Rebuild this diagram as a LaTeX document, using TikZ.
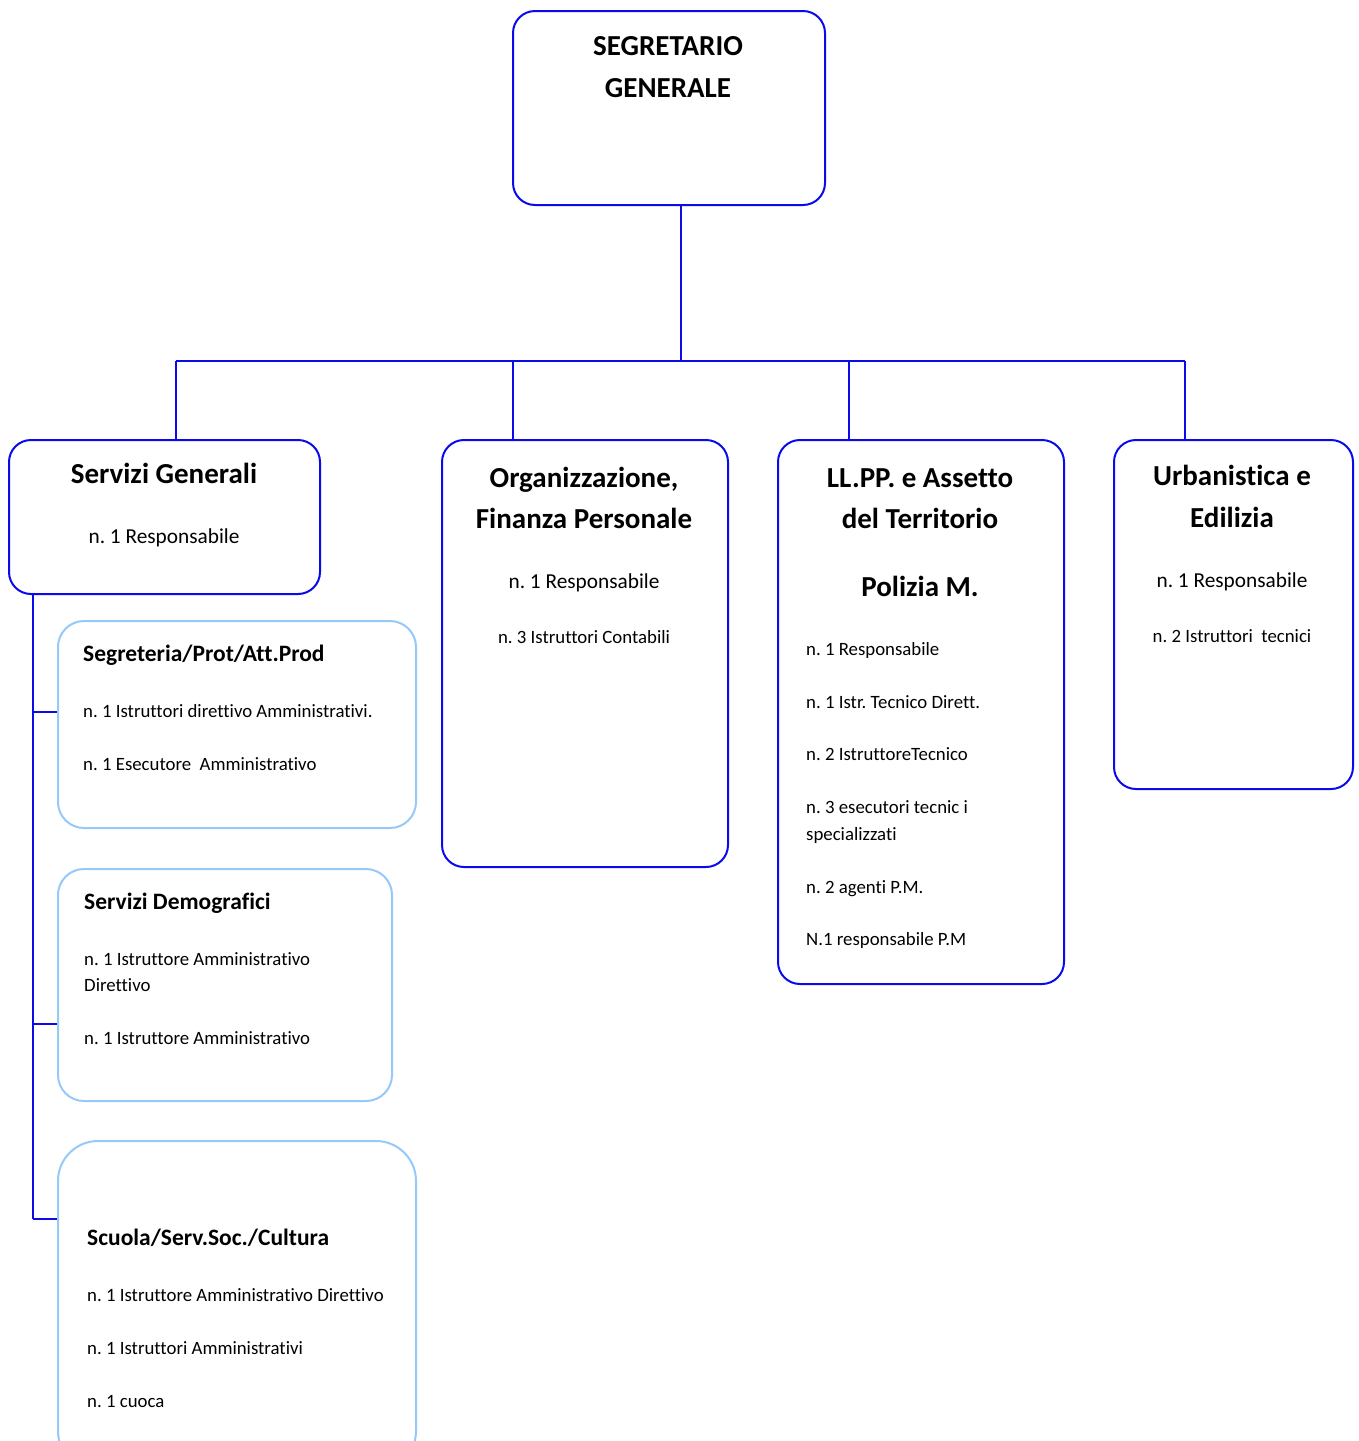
\documentclass[tikz,border=0pt]{standalone}
\usepackage{fontspec}
\setmainfont[Ligatures=NoCommon]{Carlito}
\frenchspacing
\definecolor{orgblue}{RGB}{10,10,235}
\definecolor{subblue}{RGB}{150,200,250}

\begin{document}
\begin{tikzpicture}[x=1pt, y=-1pt,
  unit/.style={draw=orgblue, line width=2pt, rounded corners=22pt, anchor=north west, inner sep=0pt},
  subunit/.style={draw=subblue, line width=2pt, rounded corners=26pt, anchor=north west, inner sep=0pt},
  title/.style={font=\bfseries\fontsize{29}{35}\selectfont, anchor=mid, yshift=-7pt},
  subtitle/.style={font=\bfseries\fontsize{23.5}{28}\selectfont, anchor=mid west, inner sep=0pt, yshift=-6pt},
  staff/.style={font=\fontsize{21.3}{26}\selectfont, anchor=mid, yshift=-5.5pt},
  item/.style={font=\fontsize{18.8}{23}\selectfont, anchor=mid west, inner sep=0pt, yshift=-5pt},
  link/.style={draw=orgblue, line width=2pt}]
  \useasboundingbox (0,0) rectangle (1358,1441);

  % Top box
  \node (sg) at (512,10) [unit, minimum width=312, minimum height=194] {};
  \node (sgt1) at (668,46) [title] {SEGRETARIO};
  \node (sgt2) at (668,88) [title] {GENERALE};

  % Areas
  \node (sgen) at (8,439) [unit, minimum width=311, minimum height=154] {};
  \node (sgent) at (164,474) [title] {Servizi Generali};
  \node (sgenr) at (164,536) [staff] {n. 1 Responsabile};

  \node (org) at (441,439) [unit, minimum width=286, minimum height=427] {};
  \node (orgt1) at (584,478) [title] {Organizzazione,};
  \node (orgt2) at (584,519) [title] {Finanza Personale};
  \node (orgr) at (584,581) [staff] {n. 1 Responsabile};
  \node (orgi) at (584,636) [staff, font=\fontsize{18.8}{23}\selectfont, yshift=0.5pt] {n. 3 Istruttori Contabili};

  \node (llpp) at (777,439) [unit, minimum width=286, minimum height=544] {};
  \node (llppt1) at (920,478) [title] {LL.PP. e Assetto};
  \node (llppt2) at (920,519) [title] {del Territorio};
  \node (llppt3) at (920,587) [title] {Polizia M.};
  \foreach \y/\t [count=\i] in {648/n. 1 Responsabile, 701/n. 1 Istr. Tecnico Dirett.,
      753/n. 2 IstruttoreTecnico, 806/n. 3 esecutori tecnic i, 833/specializzati,
      886/n. 2 agenti P.M., 938/N.1 responsabile P.M}
    \node (llppi\i) at (806,\y) [item] {\t};

  \node (urb) at (1113,439) [unit, minimum width=239, minimum height=349] {};
  \node (urbt1) at (1232,476) [title] {Urbanistica e};
  \node (urbt2) at (1232,518) [title] {Edilizia};
  \node (urbr) at (1232,580) [staff] {n. 1 Responsabile};
  \node (urbi) at (1232,635) [staff, font=\fontsize{18.8}{23}\selectfont, yshift=0.5pt] {n. 2 Istruttori\ \ tecnici};

  % Offices under Servizi Generali
  \node (segr) at (57,620) [subunit, minimum width=358, minimum height=207] {};
  \node (segrt) at (83,653) [subtitle] {Segreteria/Prot/Att.Prod};
  \node (segri1) at (83,710) [item] {n. 1 Istruttori direttivo Amministrativi.};
  \node (segri2) at (83,763) [item] {n. 1 Esecutore\ \ Amministrativo};

  \node (demo) at (57,868) [subunit, minimum width=334, minimum height=232] {};
  \node (demot) at (84,901) [subtitle] {Servizi Demografici};
  \node (demoi1) at (84,958) [item] {n. 1 Istruttore Amministrativo};
  \node (demoi2) at (84,984) [item] {Direttivo};
  \node (demoi3) at (84,1037) [item] {n. 1 Istruttore Amministrativo};

  \node (scu) at (57,1140) [subunit, rounded corners=40pt, minimum width=358, minimum height=330] {};
  \node (scut) at (87,1237) [subtitle] {Scuola/Serv.Soc./Cultura};
  \node (scui1) at (87,1294) [item] {n. 1 Istruttore Amministrativo Direttivo};
  \node (scui2) at (87,1347) [item] {n. 1 Istruttori Amministrativi};
  \node (scui3) at (87,1400) [item] {n. 1 cuoca};

  % Connectors
  \coordinate (b0) at (681,361);
  \coordinate (b1) at (176,361);
  \coordinate (b4) at (1185,361);
  \coordinate (b2) at (513,361);
  \coordinate (b3) at (849,361);
  \draw[link] (sg.south -| b0) -- (b0);
  \draw[link] (b1) -- (b4);
  \foreach \b/\u in {b1/sgen, b2/org, b3/llpp, b4/urb}
    \draw[link] (\b) -- (\b |- \u.north);

  \coordinate (j1) at (33,712);
  \coordinate (j2) at (33,1024);
  \coordinate (j3) at (33,1219);
  \draw[link] (sgen.south -| j1) -- (j3);
  \foreach \j/\u in {j1/segr, j2/demo, j3/scu}
    \draw[link] (\j) -- (\j -| \u.west);
\end{tikzpicture}
\end{document}
